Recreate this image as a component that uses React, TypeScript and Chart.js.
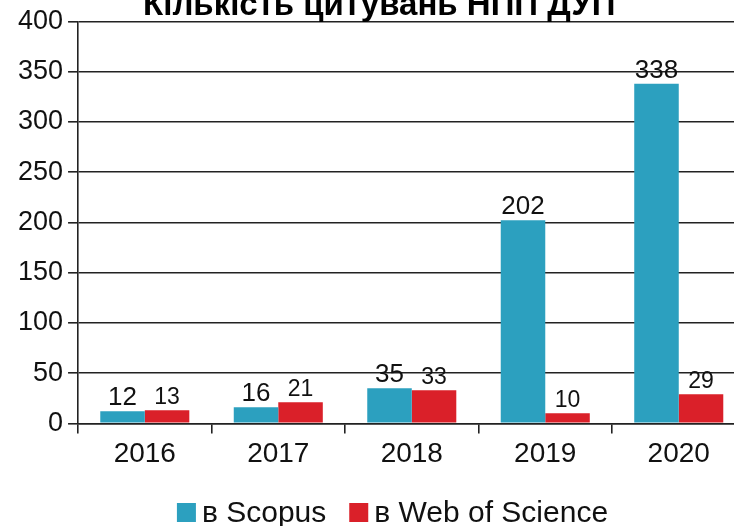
import React, { useEffect, useRef } from "react";
import { Chart, registerables } from "chart.js";

Chart.register(...registerables);

const chartTitle = "Кількість цитувань НПП ДУП";
const years = ["2016", "2017", "2018", "2019", "2020"];
const scopusValues = [12, 16, 35, 202, 338];
const wosValues = [13, 21, 33, 10, 29];
const seriesNames = ["в Scopus", "в Web of Science"];
const seriesColors = ["#2CA0BF", "#DA2029"];
const yMin = 0;
const yMax = 400;
const yStep = 50;

const FONT = "'Liberation Sans', Arial, Helvetica, sans-serif";
const CANVAS_W = 760;
const CANVAS_H = 545;
const CANVAS_TOP = -10;

const valueLabels = {
  id: "valueLabels",
  afterDatasetsDraw(chart: any) {
    const ctx = chart.ctx;
    chart.data.datasets.forEach((ds: any, i: number) => {
      const meta = chart.getDatasetMeta(i);
      const size = i === 0 ? 26 : 23;
      ctx.save();
      ctx.font = `${size}px ${FONT}`;
      ctx.fillStyle = "#111";
      ctx.textAlign = "center";
      ctx.textBaseline = "alphabetic";
      meta.data.forEach((bar: any, j: number) => {
        ctx.fillText(String(ds.data[j]), bar.x, bar.y - 6);
      });
      ctx.restore();
    });
  },
};

const bottomLegend = {
  id: "bottomLegend",
  afterDraw(chart: any) {
    const ctx = chart.ctx;
    ctx.save();
    ctx.font = `30px ${FONT}`;
    const box = 19;
    const gapText = 6;
    const gapItem = 23;
    const items = chart.data.datasets.map((ds: any) => ({
      label: ds.label as string,
      color: ds.backgroundColor as string,
      w: ctx.measureText(ds.label).width,
    }));
    const total =
      items.reduce((s: number, it: any) => s + box + gapText + it.w, 0) +
      gapItem * (items.length - 1);
    let x = 392.5 - total / 2;
    const baseline = chart.height - 13.5;
    const boxTop = chart.height - 32;
    ctx.textAlign = "left";
    ctx.textBaseline = "alphabetic";
    items.forEach((it: any) => {
      ctx.fillStyle = it.color;
      ctx.fillRect(x, boxTop, box, box);
      x += box + gapText;
      ctx.fillStyle = "#111";
      ctx.fillText(it.label, x, baseline);
      x += it.w + gapItem;
    });
    ctx.restore();
  },
};

export default function App() {
  const ref = useRef<HTMLCanvasElement | null>(null);

  useEffect(() => {
    if (!ref.current) return;
    const chart = new Chart(ref.current, {
      type: "bar",
      data: {
        labels: years,
        datasets: [
          {
            label: seriesNames[0],
            data: scopusValues,
            backgroundColor: seriesColors[0],
            borderWidth: 0,
            categoryPercentage: 0.667,
            barPercentage: 1,
          },
          {
            label: seriesNames[1],
            data: wosValues,
            backgroundColor: seriesColors[1],
            borderWidth: 0,
            categoryPercentage: 0.667,
            barPercentage: 1,
          },
        ],
      },
      options: {
        responsive: false,
        animation: false,
        devicePixelRatio: 1,
        layout: { padding: { left: 13, right: 14.5, top: 0, bottom: 60 } },
        plugins: {
          legend: { display: false },
          tooltip: { enabled: false },
          title: {
            display: true,
            text: chartTitle,
            color: "#000",
            font: { family: FONT, size: 33, weight: "bold", lineHeight: 0.95 },
            padding: { top: 0, bottom: 0 },
          },
        },
        scales: {
          x: {
            grid: {
              offset: true,
              drawOnChartArea: false,
              drawTicks: true,
              tickLength: 10,
              color: "#222",
              lineWidth: 1.6,
            },
            border: { display: true, color: "#222", width: 1.6 },
            ticks: { font: { family: FONT, size: 28 }, color: "#111", padding: 4 },
          },
          y: {
            min: yMin,
            max: yMax,
            ticks: { stepSize: yStep, font: { family: FONT, size: 27 }, color: "#111", padding: 5 },
            grid: { color: "#222", lineWidth: 1.6, tickLength: 10 },
            border: { color: "#222", width: 1.6 },
          },
        },
      },
      plugins: [valueLabels, bottomLegend],
    } as any);
    return () => chart.destroy();
  }, []);

  return (
    <div
      style={{
        position: "absolute",
        left: 0,
        top: 0,
        width: 734,
        height: 526,
        overflow: "hidden",
        background: "#fff",
      }}
    >
      <canvas
        ref={ref}
        width={CANVAS_W}
        height={CANVAS_H}
        style={{ position: "absolute", left: 0, top: CANVAS_TOP, width: CANVAS_W, height: CANVAS_H }}
      />
    </div>
  );
}
